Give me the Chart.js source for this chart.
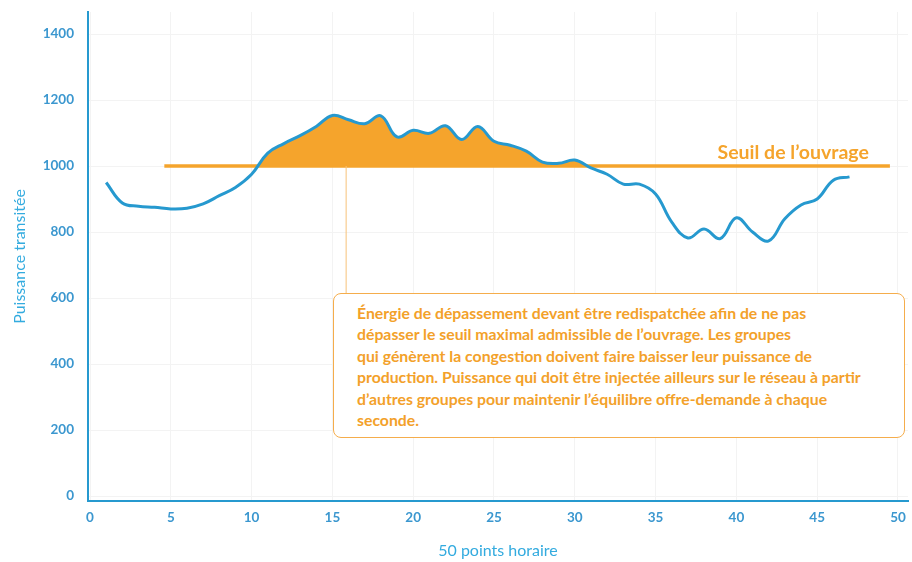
<!DOCTYPE html>
<html lang="fr">
<head>
<meta charset="utf-8">
<title>Seuil de l’ouvrage</title>
<script src="https://cdn.jsdelivr.net/npm/chart.js@4.4.0/dist/chart.umd.min.js"></script>
<style>
  body { margin: 0; background: #fff; }
  #wrap { position: relative; width: 912px; height: 562px; }
  #note {
    position: absolute; left: 333px; top: 293px; width: 572px; height: 145px;
    box-sizing: border-box; border: 1.5px solid #f5ad4c; border-radius: 8px; background: #fff;
    padding: 8px 0 0 23px; font: bold 15.8px Lato, sans-serif; line-height: 21.4px;
    color: #f3a12a; white-space: nowrap;
  }
</style>
</head>
<body>
<div id="wrap">
  <canvas id="chart" width="912" height="562"></canvas>
  <div id="note">
    Énergie de dépassement devant être redispatchée afin de ne pas<br>
    dépasser le seuil maximal admissible de l’ouvrage. Les groupes<br>
    qui génèrent la congestion doivent faire baisser leur puissance de<br>
    production. Puissance qui doit être injectée ailleurs sur le réseau à partir<br>
    d’autres groupes pour maintenir l’équilibre offre-demande à chaque<br>
    seconde.
  </div>
</div>
<script>
// données
const hours = [1, 2, 3, 4, 5, 6, 7, 8, 9, 10, 11, 12, 13, 14, 15, 16, 17, 18, 19, 20, 21, 22, 23, 24,
  25, 26, 27, 28, 29, 30, 31, 32, 33, 34, 35, 36, 37, 38, 39, 40, 41, 42, 43, 44, 45, 46, 47];
const puissance = [950, 888, 878, 875, 870, 872, 885, 910, 935, 975, 1039, 1068, 1092, 1120, 1153,
  1140, 1128, 1152, 1088, 1108, 1099, 1122, 1080, 1120, 1075, 1063, 1045, 1012, 1008, 1018, 994,
  975, 945, 945, 915, 830, 782, 809, 780, 843, 800, 773, 840, 882, 900, 957, 967];
const seuilValue = 1000;
const seuilX = [4.6, 49.5];
const seuilLabel = 'Seuil de l’ouvrage';
const connectorX = 15.85;
const yTicks = [0, 200, 400, 600, 800, 1000, 1200, 1400];
const xTicks = [0, 5, 10, 15, 20, 25, 30, 35, 40, 45, 50];

const orange = '#f5a42c';
const blue = '#2699cf';
const tickBlue = '#3b97cf';
const titleBlue = '#33abdf';

const annotations = {
  id: 'annotations',
  afterDatasetsDraw(chart) {
    const { ctx, scales: { x, y } } = chart;
    ctx.save();
    // libellé du seuil
    ctx.font = 'bold 19.5px Lato';
    ctx.fillStyle = orange;
    ctx.textAlign = 'right';
    ctx.textBaseline = 'alphabetic';
    ctx.fillText(seuilLabel, x.getPixelForValue(seuilX[1]) - 21, y.getPixelForValue(seuilValue) - 7);
    // trait vers la boîte de texte
    const cx = x.getPixelForValue(connectorX);
    ctx.strokeStyle = '#f7c27a';
    ctx.lineWidth = 1;
    ctx.beginPath();
    ctx.moveTo(cx, y.getPixelForValue(seuilValue));
    ctx.lineTo(cx, 293);
    ctx.stroke();
    ctx.restore();
  }
};

new Chart(document.getElementById('chart'), {
  type: 'line',
  data: {
    datasets: [
      {
        label: 'Puissance transitée',
        data: hours.map((h, i) => ({ x: h, y: puissance[i] })),
        borderColor: blue,
        borderWidth: 3,
        pointRadius: 0,
        tension: 0.4,
        fill: { target: { value: seuilValue }, above: orange, below: 'rgba(0,0,0,0)' },
        order: 1
      },
      {
        label: seuilLabel,
        data: seuilX.map(v => ({ x: v, y: seuilValue })),
        borderColor: orange,
        borderWidth: 3.5,
        pointRadius: 0,
        fill: false,
        order: 2
      }
    ]
  },
  options: {
    responsive: false,
    animation: false,
    layout: { padding: { top: 12, right: 4, left: 0, bottom: 0 } },
    plugins: { legend: { display: false }, tooltip: { enabled: false } },
    scales: {
      x: {
        type: 'linear',
        min: -0.124,
        max: 50.62,
        afterBuildTicks: s => { s.ticks = xTicks.map(v => ({ value: v })); },
        afterFit: s => { s.height = 61; s.paddingLeft = 0; s.paddingRight = 0; },
        border: { color: blue, width: 2 },
        grid: { color: '#f3f3f3', drawTicks: false },
        ticks: { padding: 9, color: tickBlue, font: { family: 'Lato', size: 13.5, weight: 'bold' } },
        title: {
          display: true, text: '50 points horaire', color: titleBlue,
          font: { family: 'Lato', size: 16 }, padding: { top: 2, bottom: 2 }
        }
      },
      y: {
        min: -15.15,
        max: 1466.67,
        afterBuildTicks: s => { s.ticks = yTicks.map(v => ({ value: v })); },
        afterFit: s => { s.width = 88; s.paddingTop = 0; s.paddingBottom = 0; },
        border: { color: blue, width: 2 },
        grid: { color: '#f3f3f3', drawTicks: false },
        ticks: {
          padding: 14, color: tickBlue, font: { family: 'Lato', size: 13.5, weight: 'bold' },
          callback: v => String(v)
        },
        title: {
          display: true, text: 'Puissance transitée', color: titleBlue,
          font: { family: 'Lato', size: 16 }, padding: { top: 10, bottom: 0 }
        }
      }
    }
  },
  plugins: [annotations]
});
</script>
</body>
</html>
